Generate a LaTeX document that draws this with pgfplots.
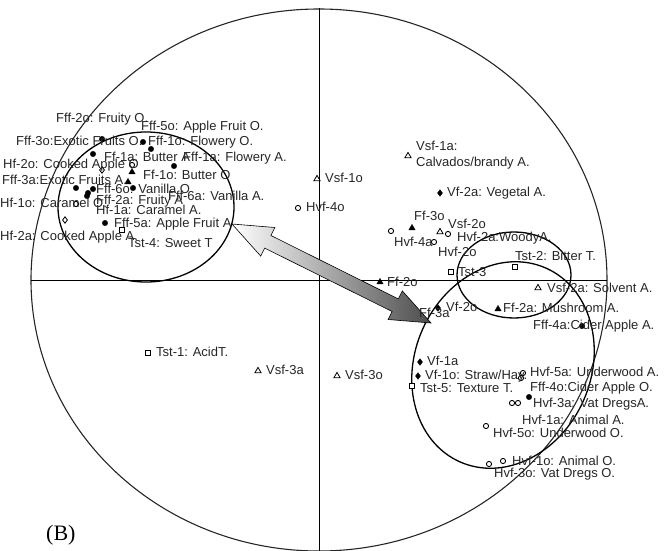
\documentclass[border=0pt]{standalone}
\usepackage{pgfplots}
\pgfplotsset{compat=1.18}
\usepackage{pgfplotstable}
\usepackage{fontspec}
\setmainfont{Liberation Sans}
\newfontfamily\seriffont{Liberation Serif}

% positions in picture units (x to the right, y downwards)
\pgfplotstableread{
x y
102 139
143 142
151 149
93 154
174 166
76 188
93 189
88 193
87 196
133 188
105 223
582 326
529 397
}\fcirc
\pgfplotstableread{
x y
132 172
128 182
412 228
380 282
498 309
}\ftri
\pgfplotstableread{
x y
440 193
438 308
420 362
418 376
}\fdiam
\pgfplotstableread{
x y
317 179
408 156
440 232
538 288
258 371
337 376
}\otri
\pgfplotstableread{
x y
132 165
76 204
298 208
391 231
448 234
434 242
523 373
521 378
512 403
518 403
486 426
489 464
503 461
}\ocirc
\pgfplotstableread{
x y
122 230
515 267
451 272
412 386
148 353
}\osq
\pgfplotstableread{
x y
102 170
65 220
}\odiam

\pgfplotstableread[col sep=semicolon]{
x;y;label
56;119;Fff-2o: Fruity O.
141;127;Fff-5o: Apple Fruit O.
16;142;Fff-3o:Exotic Fruits O.
148;142;Fff-1o: Flowery O.
3;165;Hf-2o: Cooked Apple O
104;158;Ff-1a: Butter A
183;158;Fff-1a: Flowery A.
2;181;Fff-3a:Exotic Fruits A.
143;176;Ff-1o: Butter O
96;190;Fff-6o: Vanilla O
0;204;Hf-1o: Caramel O.
96;201;Fff-2a: Fruity A
168;197;Fff-6a: Vanilla A.
96;211;Hf-1a: Caramel A.
114;224;Fff-5a: Apple Fruit A
0;237;Hf-2a: Cooked Apple A.
128;244;Tst-4: Sweet T
325;179;Vsf-1o
306;208;Hvf-4o
416;147;Vsf-1a:
416;163;Calvados/brandy A.
447;193;Vf-2a: Vegetal A.
414;217;Ff-3o
448;225;Vsf-2o
394;243;Hvf-4a
457;238;Hvf-2a:WoodyA.
438;253;Hvf-2o
515;257;Tst-2: Bitter T.
458;273;Tst-3
387;283;Ff-2o
547;289;Vsf-2a: Solvent A.
503;309;Ff-2a: Mushroom A.
446;308;Vf-2o
419;314;Ff-3a
533;326;Fff-4a:Cider Apple A.
427;362;Vf-1a
425;376;Vf-1o: Straw/Hay.
530;373;Hvf-5a: Underwood A.
420;389;Tst-5: Texture T.
530;388;Fff-4o:Cider Apple O.
533;404;Hvf-3a: Vat DregsA.
522;421;Hvf-1a: Animal A.
493;434;Hvf-5o: Underwood O.
512;462;Hvf-1o: Animal O.
494;474;Hvf-3o: Vat Dregs O.
156;353;Tst-1: AcidT.
266;371;Vsf-3a
345;376;Vsf-3o
}\labeltab

\begin{document}
\begin{tikzpicture}
\begin{axis}[
  name=ax,
  width=669pt, height=551pt, scale only axis,
  xmin=0, xmax=669, ymin=0, ymax=551, y dir=reverse,
  hide axis, clip=false,
]
% correlation circle and axes
\draw[line width=1.1pt, black!85] (axis cs:319,280) ellipse [x radius=288pt, y radius=271pt];
\draw[line width=0.9pt] (axis cs:319,8) -- (axis cs:319,551);
\draw[line width=0.9pt] (axis cs:31,280) -- (axis cs:607,280);
% group ellipses
\draw[line width=1.3pt] (axis cs:146,207) ellipse [x radius=88pt, y radius=75pt];
\draw[line width=1.3pt] (axis cs:514,275) ellipse [x radius=57pt, y radius=43pt];
\draw[line width=1.3pt, rotate around={66:(axis cs:503,365)}] (axis cs:503,365) ellipse [x radius=106pt, y radius=88pt];
% arrow
\shade[left color=white, right color=black!70, draw=black, line width=0.6pt]
  (axis cs:232,224) -- (axis cs:274.9,227.5) -- (axis cs:270.9,235.5) --
  (axis cs:398.3,298.9) -- (axis cs:402.3,290.9) -- (axis cs:431,323) --
  (axis cs:388.1,319.5) -- (axis cs:392.1,311.5) -- (axis cs:264.7,248.1) --
  (axis cs:260.7,256.1) -- cycle;
% markers
\addplot[only marks, mark=*, mark size=2.7pt, black] table {\fcirc};
\addplot[only marks, mark=triangle*, mark size=3.6pt, black] table {\ftri};
\addplot[only marks, mark=diamond*, mark size=3.3pt, black] table {\fdiam};
\addplot[only marks, mark=triangle, mark size=3.6pt, black, mark options={fill=white, line width=0.8pt}] table {\otri};
\addplot[only marks, mark=*, mark size=2.6pt, black, mark options={fill=white, line width=0.9pt}] table {\ocirc};
\addplot[only marks, mark=square*, mark size=2.6pt, black, mark options={fill=white, line width=0.8pt}] table {\osq};
\addplot[only marks, mark=diamond*, mark size=3.2pt, black, mark options={fill=white, line width=0.8pt}] table {\odiam};
% labels
\addplot[only marks, mark=none, nodes near coords, point meta=explicit symbolic,
  every node near coord/.append style={anchor=west, inner sep=0pt, text height=0.72em, text depth=0pt, font=\fontsize{13}{15}\selectfont, text=black!85}]
  table[x=x, y=y, meta=label] {\labeltab};
\node[anchor=west, inner sep=0pt, font=\seriffont\fontsize{22}{26}\selectfont] at (axis cs:46,535) {(B)};
\end{axis}
\pgfresetboundingbox
\path (ax.south west) rectangle (ax.north east);
\end{tikzpicture}
\end{document}
